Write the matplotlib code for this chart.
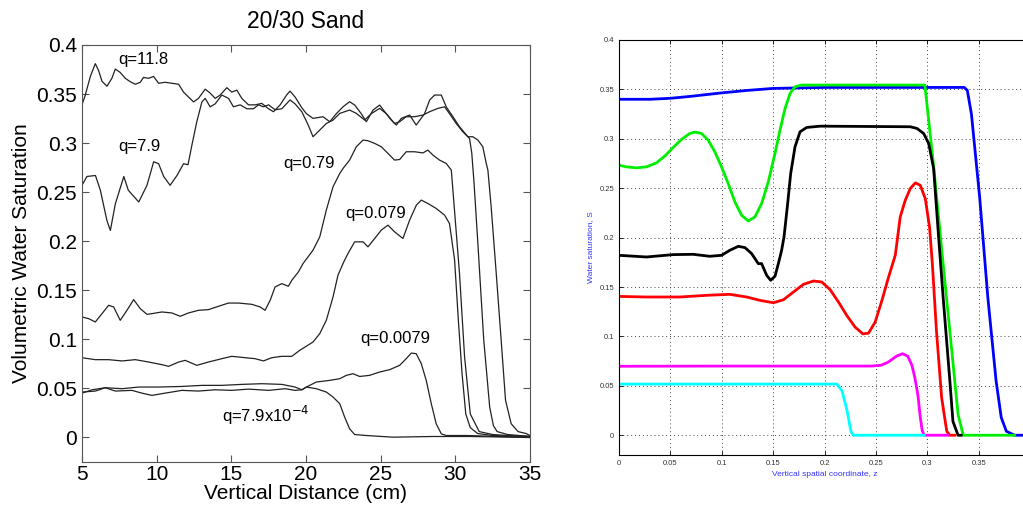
import numpy as np
import matplotlib.pyplot as plt

plt.rcParams['font.family'] = ['Liberation Sans', 'DejaVu Sans']

# ---- left panel: measured profiles, 20/30 sand (distance in cm, saturation) ----
z_q118 = [5, 5.22, 5.56, 5.89, 6.11, 6.34, 6.67, 7.0, 7.23, 7.56, 7.9, 8.23, 8.57, 8.9, 9.12,
          9.46, 9.79, 10.13, 10.57, 11.02, 11.47, 11.8, 12.13, 12.47, 12.8, 13.25, 13.58,
          13.92, 14.25, 14.7, 15.03, 15.37, 15.7, 16.15, 16.6, 17.04, 17.49, 17.82, 18.27,
          18.7, 18.93, 19.27, 19.72, 20.03, 20.47, 21.14, 21.59, 22.03, 22.48, 22.92, 23.26,
          23.7, 24.04, 24.49, 24.93, 25.27, 25.71, 26.05, 26.38, 26.94, 27.38, 27.94, 28.28,
          28.61, 29.06, 29.39, 29.84, 30.28, 30.84, 31.17, 31.51, 31.84, 32.07, 32.18, 32.4,
          32.74, 33.07, 33.36, 33.74, 34.2, 34.74, 35]
s_q118 = [0.339, 0.349, 0.368, 0.381, 0.374, 0.363, 0.358, 0.366, 0.3755, 0.372, 0.366,
          0.3626, 0.36, 0.362, 0.367, 0.366, 0.368, 0.361, 0.362, 0.361, 0.36, 0.352, 0.347,
          0.342, 0.3456, 0.355, 0.351, 0.3456, 0.349, 0.3565, 0.352, 0.354, 0.3456, 0.339,
          0.339, 0.3405, 0.335, 0.332, 0.339, 0.349, 0.353, 0.347, 0.336, 0.33, 0.3252, 0.3269,
          0.3218, 0.33, 0.337, 0.3422, 0.3388, 0.33, 0.3218, 0.3337, 0.3388, 0.332, 0.3235,
          0.3184, 0.3252, 0.3286, 0.3184, 0.33, 0.3439, 0.349, 0.349, 0.337, 0.3269, 0.3167,
          0.3065, 0.3065, 0.3031, 0.2963, 0.2793, 0.2725, 0.235, 0.167, 0.099, 0.038, 0.014,
          0.006, 0.004, 0.002]

z_q79 = [5, 5.33, 5.9, 6.23, 6.67, 6.9, 7.23, 7.8, 8.1, 8.8, 9.35, 9.8, 10.13, 10.47, 10.9,
         11.36, 11.8, 12.1, 12.36, 12.69, 13.03, 13.25, 13.58, 13.92, 14.36, 14.81, 15.14,
         15.59, 16.04, 16.48, 16.82, 17.15, 17.49, 17.93, 18.38, 18.93, 19.27, 19.72, 20.16,
         20.47, 20.92, 21.36, 21.81, 22.26, 22.92, 23.37, 23.93, 24.37, 24.93, 25.38, 25.93,
         26.27, 26.71, 27.27, 27.83, 28.28, 28.83, 29.28, 29.61, 30.06, 30.5, 30.95, 31.1,
         31.25, 31.5, 31.9, 32.3, 32.55, 32.8, 33.5, 34.3, 35]
s_q79 = [0.257, 0.266, 0.267, 0.252, 0.221, 0.211, 0.238, 0.266, 0.252, 0.24, 0.257, 0.281,
         0.279, 0.266, 0.257, 0.267, 0.279, 0.278, 0.298, 0.322, 0.342, 0.3456, 0.337, 0.34,
         0.349, 0.3456, 0.337, 0.339, 0.335, 0.335, 0.339, 0.337, 0.339, 0.334, 0.335, 0.344,
         0.34, 0.332, 0.318, 0.3065, 0.3133, 0.32, 0.3235, 0.3303, 0.3337, 0.3303, 0.3235,
         0.33, 0.3354, 0.33, 0.32, 0.3218, 0.3269, 0.3269, 0.3286, 0.332, 0.3354, 0.337, 0.33,
         0.32, 0.3116, 0.3048, 0.29, 0.26, 0.2, 0.1, 0.031, 0.012, 0.006, 0.003, 0.002, 0.001]

z_q079 = [5, 5.45, 5.89, 6.34, 6.78, 7.12, 7.56, 8.01, 8.46, 8.9, 9.35, 9.68, 10.35, 11.02,
          11.58, 12.13, 12.8, 13.47, 14.14, 14.81, 15.48, 16.37, 16.93, 17.26, 17.6, 17.93,
          18.38, 18.82, 19.05, 19.49, 19.8, 20.47, 20.92, 21.36, 21.81, 22.26, 22.48, 22.92,
          23.37, 23.82, 24.15, 24.6, 25.04, 25.49, 25.93, 26.27, 26.71, 27.27, 27.83, 28.16,
          28.5, 28.94, 29.39, 29.73, 29.9, 30.28, 30.62, 31.0, 31.6, 32.5, 33.5, 35]
s_q079 = [0.1228, 0.1211, 0.1177, 0.1262, 0.1347, 0.133, 0.1194, 0.1296, 0.1405, 0.1313,
          0.1255, 0.1262, 0.1279, 0.1269, 0.1235, 0.1269, 0.1296, 0.1303, 0.1337, 0.137,
          0.137, 0.1357, 0.133, 0.1296, 0.1398, 0.1534, 0.1568, 0.1541, 0.1602, 0.1687, 0.1772,
          0.1909, 0.2044, 0.2317, 0.2555, 0.2691, 0.2742, 0.2827, 0.2963, 0.3031, 0.3024,
          0.2997, 0.2963, 0.2895, 0.2827, 0.2833, 0.2912, 0.2912, 0.29, 0.2929, 0.2878, 0.2827,
          0.2793, 0.2725, 0.24, 0.167, 0.082, 0.024, 0.006, 0.003, 0.002, 0.001]

z_q0079 = [5, 5.89, 6.78, 7.68, 8.57, 9.46, 10.35, 10.8, 11.47, 11.91, 12.69, 13.47, 14.36,
           15.03, 15.93, 16.59, 17.15, 17.71, 18.38, 19.05, 19.58, 20.47, 20.92, 21.36, 21.81,
           22.14, 22.5, 22.81, 23.26, 23.82, 24.15, 24.6, 25.04, 25.49, 25.93, 26.49, 26.94,
           27.39, 27.72, 28.16, 28.72, 29.28, 29.61, 29.95, 30.2, 30.45, 30.7, 31.0, 31.5,
           32.5, 35]
s_q0079 = [0.0813, 0.0793, 0.0793, 0.078, 0.0793, 0.0769, 0.0742, 0.0725, 0.0769, 0.0786,
           0.0735, 0.0769, 0.0803, 0.0827, 0.0813, 0.0803, 0.078, 0.0813, 0.0827, 0.0827,
           0.0888, 0.0973, 0.1058, 0.1194, 0.1432, 0.1653, 0.178, 0.1875, 0.1994, 0.1994,
           0.1943, 0.2028, 0.2113, 0.2164, 0.2096, 0.2028, 0.2215, 0.2368, 0.2419, 0.2385,
           0.2334, 0.2266, 0.218, 0.181, 0.12, 0.065, 0.024, 0.01, 0.004, 0.002, 0.001]

z_q00079 = [5, 5.89, 6.56, 7.23, 8.34, 9.01, 9.68, 10.57, 11.69, 12.8, 13.92, 15.03, 16.15,
            17.49, 18.6, 19.27, 19.72, 20.03, 20.69, 21.59, 22.26, 22.7, 23.15, 23.59, 24.26,
            24.93, 25.6, 26.27, 26.71, 27.05, 27.38, 27.72, 28.05, 28.39, 28.72, 29.06, 29.39,
            30.73, 33.0, 35]
s_q00079 = [0.0463, 0.0473, 0.0507, 0.0473, 0.048, 0.0452, 0.0429, 0.0452, 0.048, 0.0473,
            0.0486, 0.048, 0.0493, 0.048, 0.0497, 0.048, 0.0486, 0.0514, 0.0565, 0.0582,
            0.0599, 0.0633, 0.065, 0.0622, 0.0633, 0.0667, 0.0691, 0.0735, 0.0803, 0.086,
            0.0854, 0.0752, 0.0582, 0.0344, 0.0139, 0.0037, 0.002, 0.002, 0.001, 0.0]

z_q000079 = [5, 5.67, 6.56, 7.68, 8.79, 10.13, 11.69, 13.03, 14.36, 15.7, 17.04, 18.38,
             19.27, 19.72, 20.03, 20.69, 21.36, 21.81, 22.26, 22.59, 22.92, 23.26, 24.04,
             25.82, 28.5, 31.0, 35]
s_q000079 = [0.0452, 0.0486, 0.0507, 0.0497, 0.0514, 0.0514, 0.052, 0.0531, 0.0531, 0.0541,
             0.0548, 0.0541, 0.0514, 0.0486, 0.0514, 0.0497, 0.0463, 0.0412, 0.0344, 0.0207,
             0.0088, 0.003, 0.002, 0.0003, 0.001, 0.001, 0.0]

labels_left = ['q=11.8', 'q=7.9', 'q=0.79', 'q=0.079', 'q=0.0079', 'q=7.9x10$^{-4}$']
label_pos = [(7.45, 0.385), (7.45, 0.297), (18.5, 0.279), (22.6, 0.228), (23.6, 0.101),
             (14.4, 0.022)]

# ---- right panel: simulated profiles (z, S) ----
z_blue = [0, 0.03, 0.05, 0.07, 0.1, 0.125, 0.15, 0.2, 0.336, 0.339, 0.343, 0.351, 0.359,
          0.367, 0.372, 0.377, 0.385, 0.4]
s_blue = [0.34, 0.34, 0.341, 0.343, 0.3465, 0.349, 0.351, 0.352, 0.352, 0.349, 0.325, 0.241,
          0.139, 0.055, 0.018, 0.004, 0.0, 0.0]

z_green = [0, 0.0072, 0.0169, 0.0267, 0.0364, 0.0445, 0.0527, 0.0608, 0.0689, 0.0738, 0.0803,
           0.0868, 0.0933, 0.0998, 0.1063, 0.1128, 0.1193, 0.1258, 0.1323, 0.1388, 0.1453,
           0.1518, 0.1567, 0.1616, 0.1665, 0.1713, 0.1778, 0.2977, 0.306, 0.3155, 0.3236,
           0.33, 0.335, 0.385]
s_green = [0.2733, 0.2716, 0.2706, 0.2716, 0.2757, 0.2824, 0.2912, 0.2993, 0.3054, 0.3068,
           0.3054, 0.2986, 0.2868, 0.2716, 0.2547, 0.2361, 0.2226, 0.2169, 0.2209, 0.2345,
           0.2564, 0.2851, 0.3088, 0.3307, 0.3459, 0.3527, 0.3544, 0.3544, 0.2745, 0.173,
           0.0886, 0.021, 0.0, 0.0]

z_black = [0, 0.0267, 0.0527, 0.0722, 0.0884, 0.0998, 0.1079, 0.1161, 0.1226, 0.1291, 0.1356,
           0.1388, 0.1437, 0.1476, 0.1518, 0.1551, 0.1583, 0.1606, 0.1638, 0.1671, 0.1713,
           0.1762, 0.1827, 0.1957, 0.2835, 0.29, 0.2965, 0.3014, 0.3062, 0.3106, 0.3155,
           0.322, 0.325, 0.33, 0.333]
s_black = [0.1821, 0.1804, 0.1828, 0.1831, 0.1811, 0.1821, 0.1872, 0.1912, 0.1899, 0.1838,
           0.1736, 0.1737, 0.1619, 0.1568, 0.1609, 0.1737, 0.1873, 0.2007, 0.2311, 0.2649,
           0.2919, 0.3071, 0.3115, 0.3128, 0.3122, 0.3105, 0.3054, 0.2953, 0.27, 0.207, 0.139,
           0.055, 0.014, 0.0, 0.0]

z_red = [0, 0.0267, 0.0592, 0.0852, 0.1079, 0.1242, 0.1372, 0.1502, 0.16, 0.1697, 0.1795,
         0.1892, 0.1973, 0.2055, 0.2136, 0.2217, 0.2298, 0.2373, 0.2428, 0.2493, 0.2559,
         0.2624, 0.2689, 0.2737, 0.2786, 0.2835, 0.2884, 0.2932, 0.2981, 0.3023, 0.305, 0.309,
         0.314, 0.319, 0.322, 0.327]
s_red = [0.1405, 0.1399, 0.1399, 0.1416, 0.1426, 0.1399, 0.1365, 0.1341, 0.1371, 0.1449,
         0.1527, 0.1561, 0.1551, 0.1473, 0.1348, 0.1212, 0.1094, 0.1026, 0.1033, 0.1145,
         0.1365, 0.1602, 0.1822, 0.221, 0.2378, 0.2497, 0.2554, 0.253, 0.2395, 0.21, 0.173,
         0.105, 0.038, 0.004, 0.0, 0.0]

z_magenta = [0, 0.1, 0.2, 0.245, 0.255, 0.262, 0.27, 0.276, 0.281, 0.285, 0.288, 0.291,
             0.293, 0.295, 0.297, 0.32]
s_magenta = [0.0698, 0.07, 0.07, 0.07, 0.0708, 0.074, 0.08, 0.0825, 0.08, 0.071, 0.058, 0.04,
             0.02, 0.005, 0.0, 0.0]

z_cyan = [0, 0.1, 0.212, 0.217, 0.222, 0.2256, 0.228, 0.297]
s_cyan = [0.0518, 0.0518, 0.0518, 0.045, 0.0247, 0.0044, 0.0, 0.0]

fig = plt.figure(figsize=(10.23, 5.12), dpi=100)

# left axes
ax1 = fig.add_axes([82 / 1023, 1 - 462 / 512, 448 / 1023, 417 / 512])
for z, s in [(z_q118, s_q118), (z_q79, s_q79), (z_q079, s_q079),
             (z_q0079, s_q0079), (z_q00079, s_q00079), (z_q000079, s_q000079)]:
    ax1.plot(z, s, color='#222222', lw=0.9)
ax1.set_xlim(5, 35)
ax1.set_ylim(-0.025, 0.4)
ax1.set_xticks([5, 10, 15, 20, 25, 30, 35])
ax1.set_yticks([0, 0.05, 0.1, 0.15, 0.2, 0.25, 0.3, 0.35, 0.4])
ax1.set_yticklabels(['0', '0.05', '0.1', '0.15', '0.2', '0.25', '0.3', '0.35', '0.4'])
ax1.tick_params(direction='in', top=True, right=True, labelsize=15, length=5,
                color='#555555', width=0.8)
ax1.tick_params(axis='x', pad=2)
for sp in ax1.spines.values():
    sp.set_color('#555555')
ax1.set_xlabel('Vertical Distance (cm)', fontsize=15, labelpad=0)
ax1.set_ylabel('Volumetric Water Saturation', fontsize=15, labelpad=4)
ax1.set_title('20/30 Sand', fontsize=16.5, pad=12)
for txt, (tx, ty) in zip(labels_left, label_pos):
    ax1.text(tx, ty, txt, fontsize=12, va='center', ha='left')

# right axes
ax2 = fig.add_axes([619 / 1023, 1 - 455 / 512, 411 / 1023, 415 / 512])
ax2.plot(z_blue, s_blue, color='#0000ff', lw=2)
ax2.plot(z_green, s_green, color='#00ee00', lw=2)
ax2.plot(z_black, s_black, color='black', lw=2)
ax2.plot(z_red, s_red, color='#ff0000', lw=2)
ax2.plot(z_magenta, s_magenta, color='#ff00ff', lw=2)
ax2.plot(z_cyan, s_cyan, color='#00ffff', lw=2)
ax2.set_xlim(0, 0.4)
ax2.set_ylim(-0.02, 0.4)
ax2.set_xticks([0, 0.05, 0.1, 0.15, 0.2, 0.25, 0.3, 0.35])
ax2.set_xticklabels(['0', '0.05', '0.1', '0.15', '0.2', '0.25', '0.3', '0.35'])
ax2.set_yticks([0, 0.05, 0.1, 0.15, 0.2, 0.25, 0.3, 0.35, 0.4])
ax2.set_yticklabels(['0', '0.05', '0.1', '0.15', '0.2', '0.25', '0.3', '0.35', '0.4'])
ax2.grid(True, linestyle=(0, (1, 3)), color='#444444', lw=0.7)
ax2.tick_params(direction='in', top=True, right=True, labelsize=5.5, length=3,
                width=0.6, labelcolor='#333333')
for sp in ax2.spines.values():
    sp.set_linewidth(0.8)
ax2.set_xlabel('Vertical spatial coordinate, z', fontsize=6, color='#3333ff', labelpad=3)
ax2.set_ylabel('Water saturation, S', fontsize=6, color='#3333ff', labelpad=4)

fig.savefig('out.png', dpi=100)
